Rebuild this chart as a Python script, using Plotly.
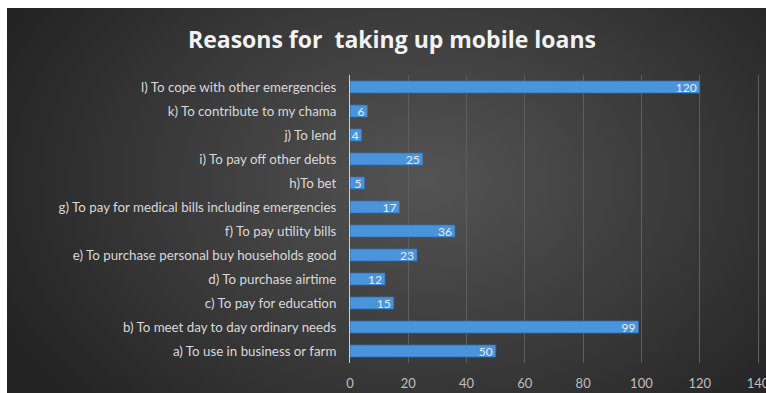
import base64
import plotly.graph_objects as go

# Survey responses: reasons for taking up mobile loans (bottom to top)
categories = [
    "a) To use in business or farm",
    "b) To meet day to day ordinary needs",
    "c) To pay for education",
    "d) To purchase airtime",
    "e) To purchase personal buy households good",
    "f) To pay utility bills",
    "g) To pay for medical bills including emergencies",
    "h)To bet",
    "i) To pay off other debts",
    "j) To lend",
    "k) To contribute to my chama",
    "l) To cope with other emergencies",
]
counts = [50, 99, 15, 12, 23, 36, 17, 5, 25, 4, 6, 120]
x_ticks = [0, 20, 40, 60, 80, 100, 120, 140]

W, H = 766, 393
L, R, T, B = 350, 2, 75, 30
pw, ph = W - L - R, H - T - B
x_max = 140 * pw / 408  # keeps 0..140 spanning 408 px

# Dark radial-gradient panel behind the chart
svg = f"""<svg xmlns='http://www.w3.org/2000/svg' width='761' height='385' viewBox='0 0 761 385' preserveAspectRatio='none'>
<defs><radialGradient id='g' cx='0.55' cy='0.45' r='0.62' gradientTransform='translate(0.55 0.45) scale(1 1.4) translate(-0.55 -0.45)'>
<stop offset='0' stop-color='#545454'/><stop offset='0.5' stop-color='#3c3c3c'/><stop offset='1' stop-color='#232323'/>
</radialGradient></defs>
<rect width='761' height='385' fill='url(#g)'/></svg>"""
src = "data:image/svg+xml;base64," + base64.b64encode(svg.encode()).decode()

px0, py0 = 7, 8  # panel top-left in pixels
fig = go.Figure()
fig.add_trace(go.Bar(
    x=counts, y=categories, orientation="h",
    marker=dict(color="#4a94dc", line=dict(color="#2d6fb3", width=0.8)),
    text=[str(v) for v in counts], textposition="inside", insidetextanchor="end",
    textangle=0,
    textfont=dict(family="Lato", size=12, color="#e6eef8"),
    width=0.5,
))

fig.add_layout_image(dict(
    source=src, xref="paper", yref="paper",
    x=(px0 - L) / pw, y=(H - B - py0) / ph,
    sizex=(W - px0) / pw, sizey=(H - py0) / ph,
    xanchor="left", yanchor="top", sizing="stretch", layer="below",
))

fig.update_layout(
    width=W, height=H,
    margin=dict(l=L, r=R, t=T, b=B),
    paper_bgcolor="white", plot_bgcolor="rgba(0,0,0,0)",
    showlegend=False,
    uniformtext=dict(minsize=12, mode="show"),
    title=dict(text="<b>Reasons for  taking up mobile loans</b>", x=392 / W, xanchor="center",
               y=1 - 40 / H, yanchor="middle",
               font=dict(family="Open Sans", size=23, color="#f2f2f2")),
    font=dict(family="Lato", color="#d9d9d9"),
)
fig.update_xaxes(range=[0, x_max], tickvals=x_ticks, showgrid=True, gridcolor="#5e5e5e",
                 gridwidth=1, zeroline=False, showline=False, automargin=False,
                 ticklabeloverflow="allow",
                 tickfont=dict(family="Lato", size=13, color="#bfbfbf"), ticklabelstandoff=11)
fig.update_yaxes(categoryorder="array", categoryarray=categories, showgrid=False,
                 showline=True, linecolor="#cfcfcf", linewidth=1,
                 tickfont=dict(family="Lato", size=13.3, color="#d9d9d9"),
                 ticks="", ticklabelstandoff=10)

fig.write_html("out.html")
